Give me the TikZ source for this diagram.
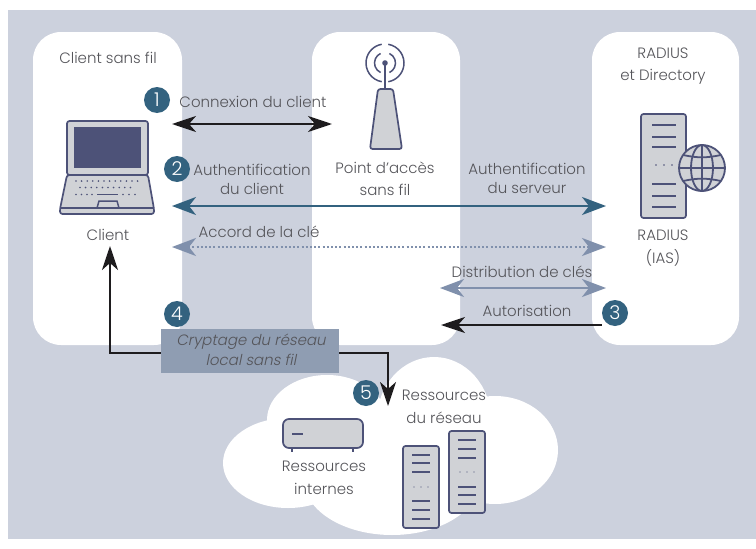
\documentclass[tikz,border=0pt]{standalone}
\usepackage{fontspec}
\setmainfont{Poppins Light}
\newfontfamily\itf{Poppins Light}[FakeSlant=0.2]
\usetikzlibrary{arrows.meta}
\definecolor{bgc}{HTML}{CCD1DD}
\definecolor{ink}{HTML}{4D5278}
\definecolor{dev}{HTML}{D0D2D6}
\definecolor{blu}{HTML}{33627F}
\definecolor{gb}{HTML}{8090AC}
\definecolor{boxc}{HTML}{8F9DB2}
\definecolor{txt}{HTML}{55555A}
\definecolor{blk}{HTML}{1E1C1E}
\tikzset{x=1pt,y=-1pt,
 panel/.style={fill=white,rounded corners=28pt},
 lbl/.style={text=txt,font=\fontsize{15}{19}\selectfont,align=center,inner sep=0pt},
 lbltall/.style={lbl,font=\fontsize{15}{22.5}\selectfont},
 num/.style={circle,fill=blu,text=white,minimum size=26pt,inner sep=0pt,font=\fontsize{19}{20}\selectfont},
 dv/.style={draw=ink,fill=dev,line width=1.7pt,rounded corners=2.5pt},
 ln/.style={draw=ink,line width=1.5pt},
 kconn/.style={draw=blk,line width=2.2pt},
 tipk/.tip={Stealth[length=24pt,width=16pt,inset=7pt]},
 tipb/.tip={Stealth[length=24pt,width=18pt,inset=7pt]},
}
\newcommand{\srvlines}[6]{% x1 x2 then y positions
 \foreach \yy in {#3,#4,#5}{\draw[ln] (#1,\yy)--(#2,\yy);}
}
\begin{document}
\begin{tikzpicture}
\useasboundingbox (0,0) rectangle (756,549);
\fill[white] (0,0) rectangle (756,549);
\fill[bgc] (8,10) rectangle (756,539);
\fill[panel] (33,32) rectangle (182,345);
\fill[panel] (312,32) rectangle (460,345);
\fill[panel] (592,32) rectangle (739,345);
% cloud
\fill[white] (288,463) ellipse [x radius=65,y radius=45];
\fill[white] (327,420) ellipse [x radius=60,y radius=45];
\fill[white] (434,420) ellipse [x radius=57,y radius=63];
\fill[white] (495,450) ellipse [x radius=63,y radius=54];
\fill[white] (392,480) ellipse [x radius=88,y radius=55];
% laptop
\draw[dv] (67,175) -- (60,209) -- (60,214) -- (154,214) -- (154,209) -- (148,175) -- cycle;
\draw[ln] (60,208)--(154,208);
\draw[ln] (97,208)--(99,201)--(117,201)--(119,208);
\draw[dv] (67,121) rectangle (148,175);
\fill[ink] (74,127) rectangle (141,168);
\draw[ln] (97,194.5)--(118,194.5);
\foreach \i in {0,...,11}{\fill[ink] ({76+\i*5.6},181) circle (.9pt);}
\foreach \i in {0,...,9}{\fill[ink] ({80+\i*5.6},187.5) circle (.9pt);}
\foreach \x in {76,81.5,87,92,123,129,135}{\fill[ink] (\x,194.5) circle (.9pt);}
% access point
\draw[ln] (385,63)--(385,89);
\fill[ink] (385,63) circle (2.8pt);
\draw[dv] (378,89)--(393,89)--(402,149)--(370,149)--cycle;
\draw[ln] (385,63) ++(-65:10.5) arc (-65:65:10.5);
\draw[ln] (385,63) ++(115:10.5) arc (115:245:10.5);
\draw[ln] (385,63) ++(-80:19) arc (-80:80:19);
\draw[ln] (385,63) ++(100:19) arc (100:260:19);
% radius server
\draw[dv] (641,114) rectangle (686,218);
\srvlines{652}{676}{125}{137}{147}{}
\srvlines{652}{676}{184}{196}{207}{}
\foreach \i in {0,1,2}{\fill[ink] ({656+\i*8},165) circle (.8pt);}
\draw[ln,fill=dev,line width=1.8pt] (702,168) circle (23);
\draw[ln,line width=1.8pt] (702,168) ellipse [x radius=11,y radius=23];
\draw[ln,line width=1.8pt] (702,145)--(702,191) (679,168)--(725,168);
\draw[ln,line width=1.8pt] (683,155) to[bend right=12] (721,155);
\draw[ln,line width=1.8pt] (683,181) to[bend left=12] (721,181);
% small servers
\draw[dv] (403,446) rectangle (439,528);
\srvlines{412}{430}{455}{463}{472}{}
\srvlines{412}{430}{501}{510}{519}{}
\foreach \i in {0,1,2}{\fill[ink] ({414+\i*7},487) circle (.7pt);}
\draw[dv] (449,431) rectangle (485,513);
\srvlines{458}{476}{440}{449}{458}{}
\srvlines{458}{476}{487}{495}{504}{}
\foreach \i in {0,1,2}{\fill[ink] ({460+\i*7},472) circle (.7pt);}
% box device
\draw[ln] (292,447)--(292,452) (353,447)--(353,452);
\draw[dv,rounded corners=6pt] (283,419) rectangle (363,448);
\draw[ln,line width=1.6pt] (292,434)--(303,434);
% endpoints
\coordinate (c1l) at (172,124); \coordinate (c1r) at (332,124);
\coordinate (c2l) at (172,206); \coordinate (c2r) at (606,206);
\coordinate (c3l) at (172,247); \coordinate (c3r) at (606,247);
\coordinate (c4l) at (440,288); \coordinate (c4r) at (606,288);
\coordinate (c5l) at (441,325);
\coordinate (cUp) at (110,246);
\coordinate (cDn) at (388,406);
% labelled nodes
\node[num] (n3) at (615,313) {3};
% connectors
\draw[kconn,tipk-tipk] (c1l)--(c1r);
\draw[draw=blu,line width=2pt,tipb-tipb] (c2l)--(c2r);
\draw[draw=gb,line width=2pt,dash pattern=on 2pt off 2.2pt,tipb-tipb] (c3l)--(c3r);
\draw[draw=gb,line width=2.2pt,tipb-tipb] (c4l)--(c4r);
\draw[kconn,tipk-] (c5l)--(n3.west |- c5l);
\node[fill=boxc,minimum width=178pt,minimum height=44pt,inner sep=0pt] (cr) at (250,351) {};
\draw[kconn,-tipk] (cr.west |- 0,353) -| (cUp);
\draw[kconn,-tipk] (cr.east |- 0,353) -| (cDn);
\node[lbl,font=\fontsize{15}{20}\itf] (crt) at (251,350) {Cryptage du réseau\\local sans fil};
\node[num] (n1) at (157,100) {1};
\node[num] (n2) at (177,169) {2};
\node[num] (n4) at (177,314) {4};
\node[num] (n5) at (366,393) {5};
% texts
\node[lbl] (t1) at (108,58) {Client sans fil};
\node[lbltall] (t2) at (663,66) {RADIUS\\et Directory};
\node[lbl] (t3) at (108,235) {Client};
\node[lbltall] (t4) at (385,179) {Point d’accès\\sans fil};
\node[lbl] (t5) at (527,178) {Authentification\\du serveur};
\node[lbltall] (t6) at (663,248) {RADIUS\\(IAS)};
\node[lbl] (t7) at (253,102) {Connexion du client};
\node[lbl] (t8) at (252,179) {Authentification\\du client};
\node[lbl] (t9) at (259,232) {Accord de la clé};
\node[lbl] (t10) at (522,272) {Distribution de clés};
\node[lbl] (t11) at (527,311) {Autorisation};
\node[lbltall] (t12) at (444,407) {Ressources\\du réseau};
\node[lbltall] (t13) at (324,478) {Ressources\\internes};
\end{tikzpicture}
\end{document}
